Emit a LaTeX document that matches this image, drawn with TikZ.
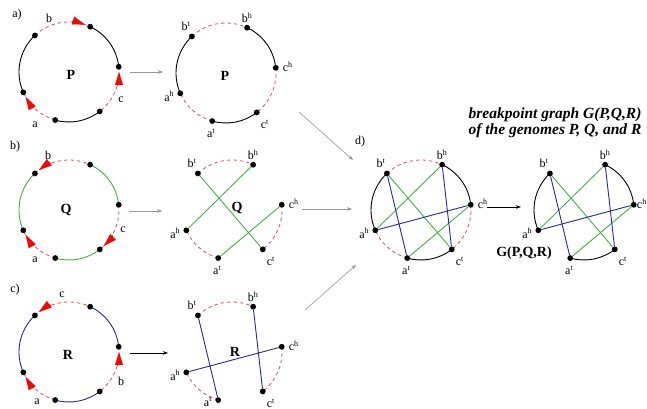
\documentclass[tikz,border=0pt]{standalone}
\usepackage{fontspec}
\setmainfont{Liberation Serif}
\usetikzlibrary{arrows.meta,calc}
\definecolor{gred}{RGB}{215,85,85}
\definecolor{ggreen}{RGB}{70,175,70}
\definecolor{gblue}{RGB}{40,40,150}
\definecolor{arrred}{RGB}{235,10,10}
\pgfdeclarelayer{bg}
\pgfsetlayers{bg,main}
\newcommand\mkpts[1]{%
  \foreach \n/\a in {bt/133,bh/65,ch/6,ct/-52,at/-106,ah/204}{%
    \node[dot] (#1\n) at ([shift={(\a:50)}]#1) {};
  }}
\newcommand\mklbls[1]{%
  \foreach \n/\l/\s/\dx/\dy in {bt/b/t/-6/10,bh/b/h/0/10,ch/c/h/12/1,ct/c/t/8/-12,at/a/t/-1/-12,ah/a/h/-11/-3}{%
    \node[lbl] (#1\n-l) at ([shift={(\dx,\dy)}]#1\n) {\l\textsuperscript{\s}};
  }}
% arc from node #1 (start angle #2 to end angle #3), style #4
\newcommand\carc[4]{\draw[#4] (#1.center) arc[start angle=#2,end angle=#3,radius=50];}
% red gene arrow on circle #1, tail angle #2, tip angle #3
\newcommand\garrow[3]{\draw[garr] ([shift={(#2:50)}]#1) arc[start angle=#2,end angle=#3,radius=50];}
% all six arcs of circle #1 with styles for the six segments
\newcommand\sixarcs[7]{%
  \carc{#1bt}{133}{65}{#2}
  \carc{#1bh}{65}{6}{#3}
  \carc{#1ch}{6}{-52}{#4}
  \carc{#1ct}{-52}{-106}{#5}
  \carc{#1at}{-106}{-156}{#6}
  \carc{#1ah}{204}{133}{#7}}
\begin{document}
\begin{tikzpicture}[x=1pt,y=1pt,
  dot/.style={circle,fill=black,inner sep=0pt,minimum size=5.8pt},
  adjk/.style={draw=black,line width=0.9pt},
  adjg/.style={draw=ggreen,line width=0.9pt},
  adjb/.style={draw=gblue,line width=0.9pt},
  gene/.style={draw=gred,dash pattern=on 3.5pt off 3pt,line width=0.8pt},
  none/.style={draw=none},
  grn/.style={draw=ggreen,line width=0.9pt},
  blu/.style={draw=gblue,line width=0.9pt},
  lbl/.style={font=\fontsize{12}{12}\selectfont,inner sep=0pt},
  glbl/.style={font=\fontsize{12}{12}\selectfont,inner sep=0pt},
  gname/.style={font=\fontsize{14}{14}\selectfont\bfseries,inner sep=0pt},
  conn/.style={draw=gray!80,line width=0.6pt,-{Stealth[length=5pt,width=3.5pt,fill=black]}},
  connk/.style={draw=black,line width=0.6pt,-{Stealth[length=5pt,width=3.5pt]}},
  garr/.style={draw=arrred,fill=arrred,line width=0.1pt,-{Triangle[length=13pt,width=8pt]}}
]
\useasboundingbox (0,0) rectangle (647,409);
% centres
\coordinate (P1) at (69,337);
\coordinate (P2) at (226,336);
\coordinate (Q1) at (69,199);
\coordinate (Q2) at (232,199);
\coordinate (R1) at (69,57);
\coordinate (R2) at (232,57);
\coordinate (D) at (421,199);
\coordinate (G) at (584,199);
\mkpts{P1}\mkpts{P2}\mkpts{Q1}\mkpts{Q2}\mkpts{R1}\mkpts{R2}\mkpts{D}\mkpts{G}
\mklbls{P2}\mklbls{Q2}\mklbls{D}
% R2 labels (a^t kept inside the lower edge)
\foreach \n/\l/\s/\dx/\dy in {bt/b/t/-6/10,bh/b/h/0/10,ch/c/h/12/1,ct/c/t/8/-12,ah/a/h/-11/-3}{%
  \node[lbl] (R2\n-l) at ([shift={(\dx,\dy)}]R2\n) {\l\textsuperscript{\s}};}
\node[lbl,anchor=south] (R2at-l) at (208,2.5) {a\textsuperscript{t}};
% G labels (c^h kept inside the right edge)
\foreach \n/\l/\s/\dx/\dy in {bt/b/t/-6/10,bh/b/h/0/10,ct/c/t/8/-12,at/a/t/-1/-12,ah/a/h/-11/-3}{%
  \node[lbl] (G\n-l) at ([shift={(\dx,\dy)}]G\n) {\l\textsuperscript{\s}};}
\node[lbl,anchor=east] (Gch-l) at (647,205) {c\textsuperscript{h}};
\begin{pgfonlayer}{bg}
  % row a
  \sixarcs{P1}{gene}{adjk}{gene}{adjk}{gene}{adjk}
  \sixarcs{P2}{gene}{adjk}{gene}{adjk}{gene}{adjk}
  % row b
  \sixarcs{Q1}{gene}{adjg}{gene}{adjg}{gene}{adjg}
  \sixarcs{Q2}{gene}{none}{gene}{none}{gene}{none}
  \draw[grn] (Q2bh) -- (Q2ah);
  \draw[grn] (Q2bt) -- (Q2ct);
  \draw[grn] (Q2ch) -- (Q2at);
  % row c
  \sixarcs{R1}{gene}{adjb}{gene}{adjb}{gene}{adjb}
  \sixarcs{R2}{gene}{none}{gene}{none}{gene}{none}
  \draw[blu] (R2bt) -- (R2at);
  \draw[blu] (R2bh) -- (R2ct);
  \draw[blu] (R2ah) -- (R2ch);
  % d
  \sixarcs{D}{gene}{none}{gene}{none}{gene}{none}
  \carc{Dbh}{65}{6}{adjk}
  \carc{Dct}{-52}{-106}{adjk}
  \carc{Dah}{204}{133}{adjk}
  \draw[grn] (Dbh) -- (Dah);
  \draw[grn] (Dbt) -- (Dct);
  \draw[grn] (Dch) -- (Dat);
  \draw[blu] (Dbt) -- (Dat);
  \draw[blu] (Dbh) -- (Dct);
  \draw[blu] (Dah) -- (Dch);
  % G
  \carc{Gbh}{65}{6}{adjk}
  \carc{Gct}{-52}{-106}{adjk}
  \carc{Gah}{204}{133}{adjk}
  \draw[grn] (Gbh) -- (Gah);
  \draw[grn] (Gbt) -- (Gct);
  \draw[grn] (Gch) -- (Gat);
  \draw[blu] (Gbt) -- (Gat);
  \draw[blu] (Gbh) -- (Gct);
  \draw[blu] (Gah) -- (Gch);
\end{pgfonlayer}
% red gene arrows
\garrow{P1}{87}{71}
\garrow{P1}{-16}{0}
\garrow{P1}{226}{210}
\garrow{Q1}{111}{127}
\garrow{Q1}{-30}{-46}
\garrow{Q1}{226}{210}
\garrow{R1}{111}{127}
\garrow{R1}{-16}{0}
\garrow{R1}{226}{210}
% gene letters
\node[glbl] (Pb) at (49,391) {b};
\node[glbl] (Pc) at (121,309) {c};
\node[glbl] (Pa) at (35,284) {a};
\node[glbl] (Qb) at (48,254) {b};
\node[glbl] (Qc) at (123,179) {c};
\node[glbl] (Qa) at (35,149) {a};
\node[glbl] (Rc) at (62,114) {c};
\node[glbl] (Rb) at (121,28) {b};
\node[glbl] (Ra) at (37,7) {a};
% panel labels
\node[glbl] (la) at (17,394) {a)};
\node[glbl] (lb) at (15,262) {b)};
\node[glbl] (lc) at (15,119) {c)};
\node[glbl] (ld) at (360,267) {d)};
% genome names
\node[gname] (nP1) at (71,334) {P};
\node[gname] (nP2) at (225,333) {P};
\node[gname] (nQ1) at (66,199) {Q};
\node[gname] (nQ2) at (237,201) {Q};
\node[gname] (nR1) at (68,54) {R};
\node[gname] (nR2) at (235,57) {R};
\node[gname] (nG) at (524,156) {G(P,Q,R)};
\node[font=\fontsize{15.5}{16}\selectfont\bfseries\itshape,align=center,inner sep=0pt] (title) at (555,286) {breakpoint graph G(P,Q,R)\\of the genomes P, Q, and R};
% connectors
\coordinate (a1s) at (130,337); \coordinate (a1e) at (163,337);
\coordinate (a2s) at (129,198); \coordinate (a2e) at (162,198);
\coordinate (a3s) at (130,56); \coordinate (a3e) at (168,56);
\coordinate (a4s) at (299,297); \coordinate (a4e) at (353,249);
\coordinate (a5s) at (302,200); \coordinate (a5e) at (352,200);
\coordinate (a6s) at (305,99); \coordinate (a6e) at (356,144);
\coordinate (a7s) at (487,202); \coordinate (a7e) at (521,202);
\draw[conn] (a1s) -- (a1e);
\draw[conn] (a2s) -- (a2e);
\draw[connk] (a3s) -- (a3e);
\draw[conn] (a4s) -- (a4e);
\draw[conn] (a5s) -- (a5e);
\draw[conn] (a6s) -- (a6e);
\draw[connk] (a7s) -- (a7e);
\end{tikzpicture}
\end{document}
